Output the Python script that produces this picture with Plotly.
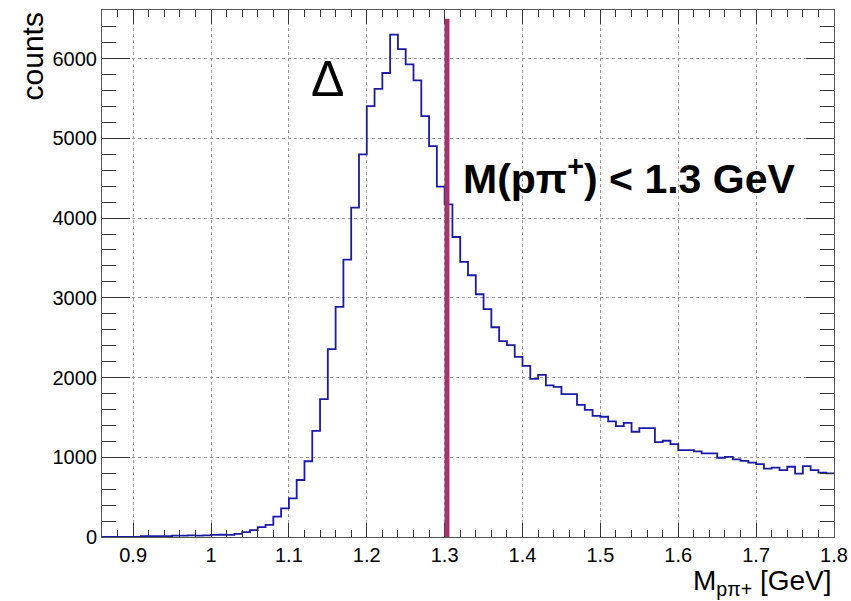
import numpy as np
import plotly.graph_objects as go

# ---- data ----
bin_start = 0.86
bin_width = 0.01
counts = [
    0, 0, 0, 0, 0, 12, 10, 12, 10, 18,          # 0.86 - 0.95
    16, 20, 18, 20, 26, 28, 26, 40, 62, 86,     # 0.96 - 1.05
    123, 153, 255, 360, 485, 715, 950, 1330, 1730, 2356,   # 1.06 - 1.15
    2886, 3480, 4130, 4800, 5405, 5620, 5820, 6300, 6120, 5927,  # 1.16 - 1.25
    5727, 5280, 4903, 4395, 4173, 3763, 3450, 3283, 3045, 2857,  # 1.26 - 1.35
    2631, 2456, 2406, 2260, 2147, 1984, 2034, 1901, 1884, 1792,  # 1.36 - 1.45
    1792, 1656, 1595, 1520, 1508, 1450, 1391, 1432, 1320, 1366,  # 1.46 - 1.55
    1366, 1190, 1207, 1165, 1090, 1090, 1075, 1048, 1048, 994,   # 1.56 - 1.65
    1006, 973, 956, 933, 913, 858, 870, 840, 881, 796,           # 1.66 - 1.75
    890, 840, 808, 798,                                          # 1.76 - 1.79
]
x_range = [0.86, 1.8]
y_range = [0, 6610]
x_ticks = [0.9, 1.0, 1.1, 1.2, 1.3, 1.4, 1.5, 1.6, 1.7, 1.8]
x_ticktext = ["0.9", "1", "1.1", "1.2", "1.3", "1.4", "1.5", "1.6", "1.7", "1.8"]
y_ticks = [0, 1000, 2000, 3000, 4000, 5000, 6000]
cut_x = 1.303
cut_top = 6500
delta_pos = (1.149, 5750)
cut_label_pos = (1.3215, 4530)

edges = bin_start + bin_width * np.arange(len(counts) + 1)
xs = list(edges)
ys = list(counts) + [counts[-1]]

FONT = "Liberation Sans, Arial, Helvetica, sans-serif"

fig = go.Figure()
fig.add_trace(go.Scatter(
    x=xs, y=ys, mode="lines", line_shape="hv",
    line=dict(color="#1a1aa6", width=1.8), showlegend=False,
    hoverinfo="skip",
))

fig.add_shape(type="line", xref="x", yref="y", x0=cut_x, x1=cut_x, y0=0, y1=cut_top,
              line=dict(color="#a8336b", width=5))

fig.add_annotation(x=delta_pos[0], y=delta_pos[1], xref="x", yref="y", text="Δ",
                   showarrow=False, font=dict(family=FONT, size=50, color="black"),
                   xanchor="center", yanchor="middle")
fig.add_annotation(x=cut_label_pos[0], y=cut_label_pos[1], xref="x", yref="y",
                   text="<b>M(pπ<sup>+</sup>) &lt; 1.3 GeV</b>",
                   showarrow=False, font=dict(family=FONT, size=41, color="black"),
                   xanchor="left", yanchor="middle")

# axis titles
fig.add_annotation(x=-0.095, y=1.0, xref="paper", yref="paper", text="counts",
                   textangle=-90, showarrow=False,
                   font=dict(family=FONT, size=30, color="black"),
                   xanchor="center", yanchor="top")
fig.add_annotation(x=1.0, y=-0.05, xref="paper", yref="paper",
                   text="M<sub>pπ+</sub> [GeV]", showarrow=False,
                   font=dict(family=FONT, size=28, color="black"),
                   xanchor="right", yanchor="top")

fig.update_xaxes(
    range=x_range, tickvals=x_ticks, ticktext=x_ticktext, automargin=False,
    ticks="inside", ticklen=14, tickwidth=1, tickcolor="#333",
    minor=dict(dtick=0.02, tick0=0.86, ticks="inside", ticklen=7, tickcolor="#333", showgrid=False),
    mirror="allticks", showline=True, linecolor="#555", linewidth=1,
    showgrid=True, gridcolor="#999", griddash="dot", gridwidth=1,
    tickfont=dict(family=FONT, size=20, color="black"), zeroline=False,
)
fig.update_yaxes(
    range=y_range, tickvals=y_ticks, automargin=False,
    ticks="inside", ticklen=28, tickwidth=1, tickcolor="#333",
    minor=dict(dtick=200, tick0=0, ticks="inside", ticklen=14, tickcolor="#333", showgrid=False),
    mirror="allticks", showline=True, linecolor="#555", linewidth=1,
    showgrid=True, gridcolor="#999", griddash="dot", gridwidth=1,
    tickfont=dict(family=FONT, size=20, color="black"), zeroline=False,
)

fig.update_layout(
    width=851, height=601,
    margin=dict(l=102, r=17, t=10, b=64),
    plot_bgcolor="white", paper_bgcolor="white",
    showlegend=False,
)

fig.write_html("out.html")
